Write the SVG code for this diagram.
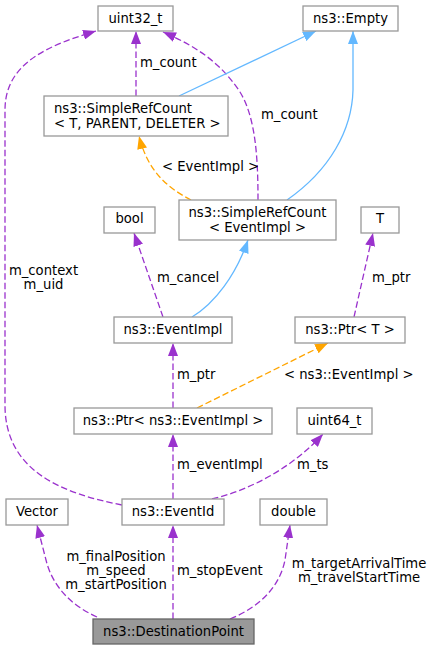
<svg xmlns="http://www.w3.org/2000/svg" width="433" height="651" viewBox="0 0 433 651">
<defs>
<style>
text{font-family:"DejaVu Sans","Liberation Sans",sans-serif;font-size:13.2px;fill:#000}
.n rect{fill:#fff;stroke:#999;stroke-width:1.3}
.n text{text-anchor:middle}
#root rect{fill:#999;stroke:#666}
.e path{fill:none;stroke-width:1.3}
.u{stroke:#9a32cd;stroke-dasharray:6.5,3}
.i{stroke:#63b8ff}
.t{stroke:#ffa500;stroke-dasharray:6.5,3}
.m{text-anchor:middle}
</style>
<marker id="ap" viewBox="0 0 13 10" refX="13" refY="5" markerWidth="13" markerHeight="10" markerUnits="userSpaceOnUse" orient="auto"><path d="M0,0L13,5L0,10z" fill="#9a32cd"/></marker>
<marker id="ab" viewBox="0 0 13 10" refX="13" refY="5" markerWidth="13" markerHeight="10" markerUnits="userSpaceOnUse" orient="auto"><path d="M0,0L13,5L0,10z" fill="#63b8ff"/></marker>
<marker id="ao" viewBox="0 0 13 10" refX="13" refY="5" markerWidth="13" markerHeight="10" markerUnits="userSpaceOnUse" orient="auto"><path d="M0,0L13,5L0,10z" fill="#ffa500"/></marker>
</defs>
<rect width="433" height="651" fill="#fff"/>
<g id="edges" class="e">
<path class="u" marker-end="url(#ap)" d="M122,505 C60,493 5,470 5,405 L5,110 C5,62 50,45 96,31"/>
<path class="u" marker-end="url(#ap)" d="M212,499 C250,490 292,468 323,434"/>
<path class="u" marker-end="url(#ap)" d="M173,499 L173,434"/>
<path class="u" marker-end="url(#ap)" d="M173,408 L173,343"/>
<path class="t" marker-end="url(#ao)" d="M197,408 L328,343"/>
<path class="u" marker-end="url(#ap)" d="M163,317 L134,233"/>
<path class="i" marker-end="url(#ab)" d="M192,317 C215,303 236,275 248,240"/>
<path class="u" marker-end="url(#ap)" d="M354,317 L373,233"/>
<path class="t" marker-end="url(#ao)" d="M191,200 C168,188 148,172 139,136"/>
<path class="u" marker-end="url(#ap)" d="M258,200 C258,160 256,118 240,92 C222,65 200,48 163,32"/>
<path class="i" marker-end="url(#ab)" d="M287,200 C330,170 352,130 353,90 L353,31"/>
<path class="u" marker-end="url(#ap)" d="M136,96 L136,31"/>
<path class="i" marker-end="url(#ab)" d="M179,96 L316,31"/>
<path class="u" marker-end="url(#ap)" d="M97,617 C70,605 52,585 46,560 L37,525"/>
<path class="u" marker-end="url(#ap)" d="M173,619 L173,525"/>
<path class="u" marker-end="url(#ap)" d="M230,619 C262,606 280,585 285,560 L290,525"/>
<text x="140" y="66.5">m_count</text>
<text x="261" y="119">m_count</text>
<text x="162" y="170.5">&lt; EventImpl &gt;</text>
<text class="m" x="43.5" y="275">m_context</text>
<text class="m" x="43.5" y="288.5">m_uid</text>
<text x="157" y="281.5">m_cancel</text>
<text x="372" y="281.5">m_ptr</text>
<text x="177" y="378.5">m_ptr</text>
<text x="284" y="378.5">&lt; ns3::EventImpl &gt;</text>
<text x="177" y="469">m_eventImpl</text>
<text x="297" y="469">m_ts</text>
<text class="m" x="116" y="561">m_finalPosition</text>
<text class="m" x="116" y="575">m_speed</text>
<text class="m" x="116" y="589">m_startPosition</text>
<text x="177" y="575">m_stopEvent</text>
<text class="m" x="359" y="567.5">m_targetArrivalTime</text>
<text class="m" x="359" y="582">m_travelStartTime</text>
</g>
<g id="uint32_t" class="n"><rect x="98" y="6" width="75" height="25"/><text x="135.5" y="22.5">uint32_t</text></g>
<g id="empty" class="n"><rect x="303" y="6" width="95" height="25"/><text x="350.5" y="22.5">ns3::Empty</text></g>
<g id="srcT" class="n"><rect x="44" y="96" width="184" height="40"/><text x="54" y="112.5" style="text-anchor:start">ns3::SimpleRefCount</text><text x="54" y="127.5" style="text-anchor:start">&lt; T, PARENT, DELETER &gt;</text></g>
<g id="srcE" class="n"><rect x="179" y="200" width="157" height="40"/><text x="257.5" y="216.5">ns3::SimpleRefCount</text><text x="257.5" y="231.5">&lt; EventImpl &gt;</text></g>
<g id="bool" class="n"><rect x="104" y="207" width="51" height="26"/><text x="129.5" y="223">bool</text></g>
<g id="T" class="n"><rect x="361" y="207" width="38" height="26"/><text x="380" y="223">T</text></g>
<g id="eventImpl" class="n"><rect x="114" y="317" width="118" height="26"/><text x="173" y="333.5">ns3::EventImpl</text></g>
<g id="ptrT" class="n"><rect x="295" y="317" width="110" height="26"/><text x="350" y="333.5">ns3::Ptr&lt; T &gt;</text></g>
<g id="ptrE" class="n"><rect x="74" y="408" width="198" height="26"/><text x="173" y="424.5">ns3::Ptr&lt; ns3::EventImpl &gt;</text></g>
<g id="uint64_t" class="n"><rect x="297" y="408" width="75" height="26"/><text x="334.5" y="424.5">uint64_t</text></g>
<g id="vector" class="n"><rect x="6" y="499" width="62" height="26"/><text x="37" y="515.5">Vector</text></g>
<g id="eventId" class="n"><rect x="122" y="499" width="102" height="26"/><text x="173" y="515.5">ns3::EventId</text></g>
<g id="double" class="n"><rect x="260" y="499" width="67" height="26"/><text x="293.5" y="515.5">double</text></g>
<g id="root" class="n"><rect x="93" y="619" width="161" height="25"/><text x="173.5" y="635.5">ns3::DestinationPoint</text></g>
</svg>
